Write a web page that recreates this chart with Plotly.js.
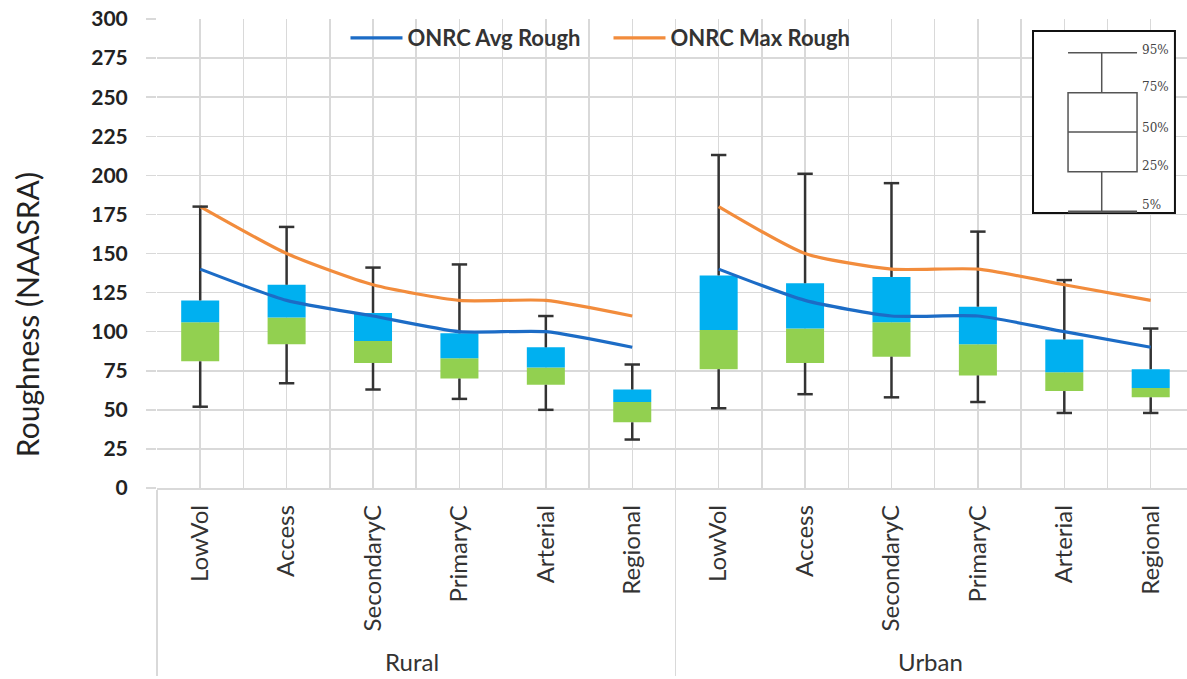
<!DOCTYPE html>
<html>
<head>
<meta charset="utf-8">
<script src="https://cdn.plot.ly/plotly-3.0.1.min.js"></script>
<style>html,body{margin:0;padding:0;background:#fff;}#chart{width:1187px;height:679px;}</style>
</head>
<body>
<div id="chart"></div>
<script>
// ---- data ----
const categories = ['LowVol','Access','SecondaryC','PrimaryC','Arterial','Regional'];
const groups = ['Rural','Urban'];
const ruralP5  = [52, 67, 63, 57, 50, 31];
const ruralP25 = [81, 92, 80, 70, 66, 42];
const ruralP50 = [106, 109, 94, 83, 77, 55];
const ruralP75 = [120, 130, 112, 99, 90, 63];
const ruralP95 = [180, 167, 141, 143, 110, 79];
const urbanP5  = [51, 60, 58, 55, 48, 48];
const urbanP25 = [76, 80, 84, 72, 62, 58];
const urbanP50 = [101, 102, 106, 92, 74, 64];
const urbanP75 = [136, 131, 135, 116, 95, 76];
const urbanP95 = [213, 201, 195, 164, 133, 102];
const ruralAvg = [140, 120, 110, 100, 100, 90];
const ruralMax = [180, 150, 130, 120, 120, 110];
const urbanAvg = [140, 120, 110, 110, 100, 90];
const urbanMax = [180, 150, 140, 140, 130, 120];
const yTicks = [0,25,50,75,100,125,150,175,200,225,250,275,300];
const keyLabels = ['95%','75%','50%','25%','5%'];
const yTitle = 'Roughness (NAASRA)';

// ---- build ----
const FONT = 'Lato, "Open Sans", sans-serif';
const gx = g => [categories.map(() => g), categories.slice()];
const allX = [groups.flatMap(g => categories.map(() => g)), groups.flatMap(() => categories)];
const p5 = ruralP5.concat(urbanP5), p25 = ruralP25.concat(urbanP25), p50 = ruralP50.concat(urbanP50);
const p75 = ruralP75.concat(urbanP75), p95 = ruralP95.concat(urbanP95);
const idx = allX[1].map((_, i) => i); // category index positions on the shared scale

const BW = 0.44;
const traces = [];
traces.push({type:'bar', x: allX, base: p25, y: p50.map((v,i)=>v-p25[i]), width: BW,
  marker:{color:'#92D050', line:{width:0}}, showlegend:false, hoverinfo:'skip'});
traces.push({type:'bar', x: allX, base: p50, y: p75.map((v,i)=>v-p50[i]), width: BW,
  marker:{color:'#00B0F0', line:{width:0}}, showlegend:false, hoverinfo:'skip'});

// whiskers
const wx0 = [], wx1 = [], wy = [];
for (let i = 0; i < p5.length; i++) {
  const g = allX[0][i], c = allX[1][i];
  [p5[i], p25[i], null, p75[i], p95[i], null].forEach(v => { wx0.push(g); wx1.push(c); wy.push(v); });
}
traces.push({type:'scatter', mode:'lines', x:[wx0, wx1], y: wy, connectgaps:false,
  line:{color:'#333333', width:2.5}, showlegend:false, hoverinfo:'skip'});
// whisker caps (on the overlaid linear axis that shares the category positions)
traces.push({type:'scatter', mode:'markers', xaxis:'x2', x: idx.concat(idx), y: p5.concat(p95),
  marker:{symbol:'line-ew', size:11, line:{color:'#333333', width:2.5}}, showlegend:false, hoverinfo:'skip'});

// lines
const avgC = '#1C6CC6', maxC = '#F28C3C';
const sp = {width:3.2, shape:'spline', smoothing:0.6};
traces.push({type:'scatter', mode:'lines', x: gx('Rural'), y: ruralAvg, name:'ONRC Avg Rough', legendgroup:'avg',
  line:Object.assign({color:avgC}, sp)});
traces.push({type:'scatter', mode:'lines', x: gx('Urban'), y: urbanAvg, name:'ONRC Avg Rough', legendgroup:'avg', showlegend:false,
  line:Object.assign({color:avgC}, sp)});
traces.push({type:'scatter', mode:'lines', x: gx('Rural'), y: ruralMax, name:'ONRC Max Rough', legendgroup:'max',
  line:Object.assign({color:maxC}, sp)});
traces.push({type:'scatter', mode:'lines', x: gx('Urban'), y: urbanMax, name:'ONRC Max Rough', legendgroup:'max', showlegend:false,
  line:Object.assign({color:maxC}, sp)});

// inset key (box-plot legend), in paper coords
const kb = {x0:0.8505, x1:0.9883, y0:0.5864, y1:0.9744};
const bx0 = 0.8845, bx1 = 0.9515, wxm = 0.9172;
const kY = [0.9282, 0.8429, 0.7591, 0.6744, 0.5891]; // 95,75,50,25,5
const kc = '#555555';
const shapes = [
  {type:'rect', xref:'paper', yref:'paper', x0:kb.x0, x1:kb.x1, y0:kb.y0, y1:kb.y1, fillcolor:'#ffffff', line:{color:'#111', width:2}, layer:'above'},
  {type:'line', xref:'paper', yref:'paper', x0:bx0, x1:bx1, y0:kY[0], y1:kY[0], line:{color:kc, width:1.5}, layer:'above'},
  {type:'line', xref:'paper', yref:'paper', x0:wxm, x1:wxm, y0:kY[0], y1:kY[1], line:{color:kc, width:1.5}, layer:'above'},
  {type:'rect', xref:'paper', yref:'paper', x0:bx0, x1:bx1, y0:kY[3], y1:kY[1], line:{color:kc, width:1.5}, layer:'above'},
  {type:'line', xref:'paper', yref:'paper', x0:bx0, x1:bx1, y0:kY[2], y1:kY[2], line:{color:kc, width:1.5}, layer:'above'},
  {type:'line', xref:'paper', yref:'paper', x0:wxm, x1:wxm, y0:kY[3], y1:kY[4], line:{color:kc, width:1.5}, layer:'above'},
  {type:'line', xref:'paper', yref:'paper', x0:bx0, x1:bx1, y0:kY[4], y1:kY[4], line:{color:kc, width:2.5}, layer:'above'}
];
const labY = [0.9339, 0.855, 0.7676, 0.6866, 0.6034];
const annotations = keyLabels.map((t,i) => ({xref:'paper', yref:'paper', x:0.9544, y:labY[i], xanchor:'left', yanchor:'middle',
  text:t, showarrow:false, font:{family:'"DejaVu Serif", serif', size:12, color:'#444'}}));
annotations.push({xref:'paper', yref:'paper', x:-0.126, y:0.369, xanchor:'center', yanchor:'middle', textangle:-90,
  text:yTitle, showarrow:false, font:{family:FONT, size:30, color:'#222'}});

const xRange = [-0.5, 11.42];
const grid = '#d9d9d9';
const layout = {
  width:1187, height:679,
  margin:{l:157, r:0, t:19, b:191},
  paper_bgcolor:'#fff', plot_bgcolor:'#fff',
  font:{family:FONT, color:'#333'},
  barmode:'overlay',
  showlegend:true,
  legend:{orientation:'h', x:0.183, xanchor:'left', y:0.9595, yanchor:'middle', bgcolor:'rgba(255,255,255,0)',
    font:{family:FONT, size:22, color:'#333', weight:'bold'}, itemwidth:52, entrywidth:196, entrywidthmode:'pixels'},
  xaxis:{type:'multicategory', range:xRange, showgrid:true, tickson:'boundaries', gridcolor:grid, gridwidth:1.5,
    showline:true, linecolor:grid, linewidth:1.5, ticks:'', tickangle:-90, ticklabelstandoff:6,
    tickfont:{family:FONT, size:24, color:'#333'}, dividercolor:grid, dividerwidth:1.5, showdividers:true},
  xaxis2:{overlaying:'x', anchor:'y', range:xRange, type:'linear', tick0:0, dtick:1, showgrid:true, gridcolor:grid, gridwidth:1.5,
    showticklabels:false, ticks:'', showline:false, zeroline:false},
  yaxis:{range:[0,300], tickmode:'array', tickvals:yTicks, showgrid:true, gridcolor:grid, gridwidth:1.5,
    zeroline:false, showline:false, ticks:'outside', ticklen:10, tickcolor:grid, tickwidth:1.5,
    tickfont:{family:FONT, size:21, color:'#222', weight:'bold'}, ticklabelstandoff:14},
  shapes: shapes,
  annotations: annotations
};
Plotly.newPlot('chart', traces, layout, {displayModeBar:false, staticPlot:true});
</script>
</body>
</html>
